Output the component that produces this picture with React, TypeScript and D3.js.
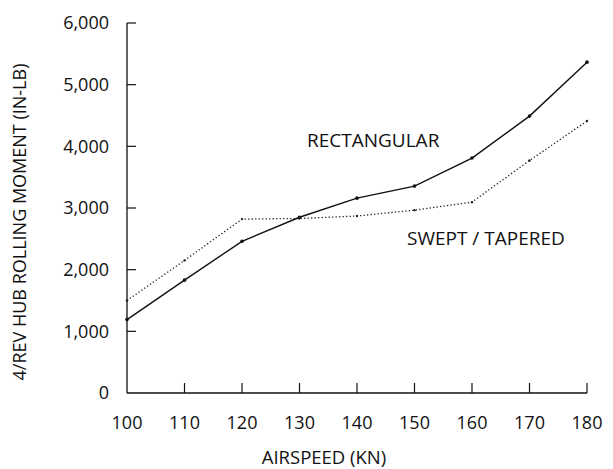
import * as d3 from "d3";

const airspeed = [100, 110, 120, 130, 140, 150, 160, 170, 180];
const rectangular = [1190, 1830, 2460, 2850, 3160, 3355, 3810, 4490, 5365];
const swept = [1500, 2150, 2820, 2830, 2870, 2965, 3095, 3770, 4410];
const yTicks = [0, 1000, 2000, 3000, 4000, 5000, 6000];
const xTicks = [100, 110, 120, 130, 140, 150, 160, 170, 180];

const W = 613, H = 469;
const font = "'Open Sans', 'DejaVu Sans', sans-serif";
const ink = "#111";

export default function App() {
  const x = d3.scaleLinear().domain([100, 180]).range([127, 587]);
  const y = d3.scaleLinear().domain([0, 6000]).range([393, 23]);
  const line = d3.line<number>().x((_, i) => x(airspeed[i])).y(d => y(d));
  const fmt = d3.format(",");

  return (
    <svg width={W} height={H} style={{ position: "absolute", left: 0, top: 0, background: "#fff" }}>
      {/* axes */}
      <line x1={x(100)} x2={x(100)} y1={y(6000)} y2={y(0)} stroke={ink} strokeWidth={1.3} />
      <line x1={x(100)} x2={x(180)} y1={y(0)} y2={y(0)} stroke={ink} strokeWidth={1.3} />
      {yTicks.map(t => (
        <g key={"y" + t}>
          {t > 0 && <line x1={x(100)} x2={x(100) + 9} y1={y(t)} y2={y(t)} stroke={ink} strokeWidth={1.2} />}
          <text x={109} y={y(t)} dy="0.36em" textAnchor="end" fontFamily={font} fontSize={18}
            fontWeight={500} fill={ink}>
            {fmt(t)}
          </text>
        </g>
      ))}
      {xTicks.map(t => (
        <g key={"x" + t}>
          {t > 100 && <line x1={x(t)} x2={x(t)} y1={y(0)} y2={y(0) - 10} stroke={ink} strokeWidth={1.2} />}
          <text x={x(t)} y={423} dy="0.36em" textAnchor="middle" fontFamily={font} fontSize={18}
            fontWeight={500} fill={ink}>
            {t}
          </text>
        </g>
      ))}
      <text x={324} y={464} textAnchor="middle" fontFamily={font} fontSize={18.5}
        fontWeight={500} fill={ink}>
        AIRSPEED (KN)
      </text>
      <text transform={`translate(20,222) rotate(-90)`} textAnchor="middle" dy="0.36em"
        fontFamily={font} fontSize={18} fontWeight={500} fill={ink}>
        4/REV HUB ROLLING MOMENT (IN-LB)
      </text>

      {/* series */}
      <path d={line(swept) ?? ""} fill="none" stroke="#222" strokeWidth={1.3} strokeDasharray="1.3 2.2" />
      <path d={line(rectangular) ?? ""} fill="none" stroke={ink} strokeWidth={1.4} />
      {rectangular.map((v, i) => (
        <circle key={"r" + i} cx={x(airspeed[i])} cy={y(v)} r={1.8} fill={ink} />
      ))}
      {swept.map((v, i) => (
        <circle key={"s" + i} cx={x(airspeed[i])} cy={y(v)} r={1.2} fill="#222" />
      ))}

      <text x={307} y={140} dy="0.36em" fontFamily={font} fontSize={19} fontWeight={500} fill={ink}>RECTANGULAR</text>
      <text x={407} y={238} dy="0.36em" fontFamily={font} fontSize={19} fontWeight={500} fill={ink}>SWEPT / TAPERED</text>
    </svg>
  );
}
